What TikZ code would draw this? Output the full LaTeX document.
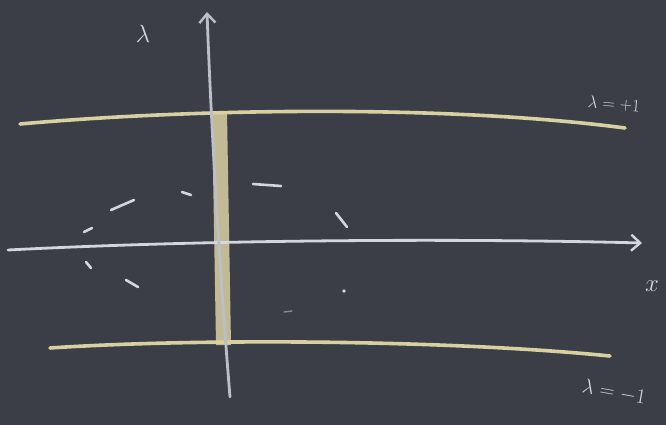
\documentclass[tikz,border=0pt]{standalone}
\usetikzlibrary{arrows.meta}
\definecolor{board}{HTML}{3B3E46}
\definecolor{chalkw}{HTML}{D2D6DE}
\definecolor{chalky}{HTML}{D9D0A2}
\tikzset{
  chalk/.style={draw=chalkw, line width=2.8pt, line cap=round},
  ychalk/.style={draw=chalky, line width=3.6pt, line cap=round},
  dashmark/.style={draw=chalkw, line width=2.6pt, line cap=round},
  lbl/.style={text=chalkw, inner sep=0pt},
  tipstyle/.style={-{Straight Barb[length=9pt,width=16pt,line width=2.4pt]}}
}
\begin{document}
\begin{tikzpicture}[x=1pt,y=-1pt]
\fill[board] (0,0) rectangle (666,425);
\useasboundingbox (0,0) rectangle (666,425);
% named points
\coordinate (tl) at (20,124);
\coordinate (tr) at (625,128);
\coordinate (bl) at (50,348);
\coordinate (br) at (610,356);
\coordinate (xl) at (8,250);
\coordinate (xr) at (642,243);
\coordinate (yb) at (230,397);
\coordinate (yt) at (207,12);
% band
\fill[chalky, opacity=0.85] (212,112) -- (227,112) -- (231,345) -- (216,345) -- cycle;
% horizontal lines
\draw[ychalk] (tl) .. controls (200,108) and (450,105) .. (tr);
\draw[ychalk] (bl) .. controls (200,338) and (450,340) .. (br);
\draw[chalk, tipstyle] (xl) .. controls (200,240) and (450,238) .. (xr);
% vertical axis
\draw[chalk, tipstyle, draw=chalkw!85!board] (yb) .. controls (222,300) and (212,150) .. (yt);
% dashed circle marks
\draw[dashmark] (111,210) -- (134,200);
\draw[dashmark] (84,232) -- (92,228);
\draw[dashmark] (86,262) -- (91,268);
\draw[dashmark] (126,280) -- (138,287);
\draw[dashmark] (182,192) -- (191,195);
\draw[dashmark] (253,184) -- (281,186);
\draw[dashmark] (336,213) -- (347,227);
\fill[chalkw] (344,291) circle (1.8pt);
\draw[dashmark, line width=1.4pt, opacity=0.5] (284,312) -- (292,311);
% labels
\node[lbl, font=\fontsize{30}{32}\selectfont] (lam) at (143,34) {$\lambda$};
\node[lbl, rotate=-5, font=\fontsize{17}{19}\selectfont] (lp) at (614,104) {$\lambda=+1$};
\node[lbl, rotate=-10, font=\fontsize{20}{22}\selectfont] (lm) at (614,392) {$\lambda=-1$};
\node[lbl, font=\fontsize{28}{30}\selectfont] (xlab) at (652,286) {$x$};
\end{tikzpicture}
\end{document}
